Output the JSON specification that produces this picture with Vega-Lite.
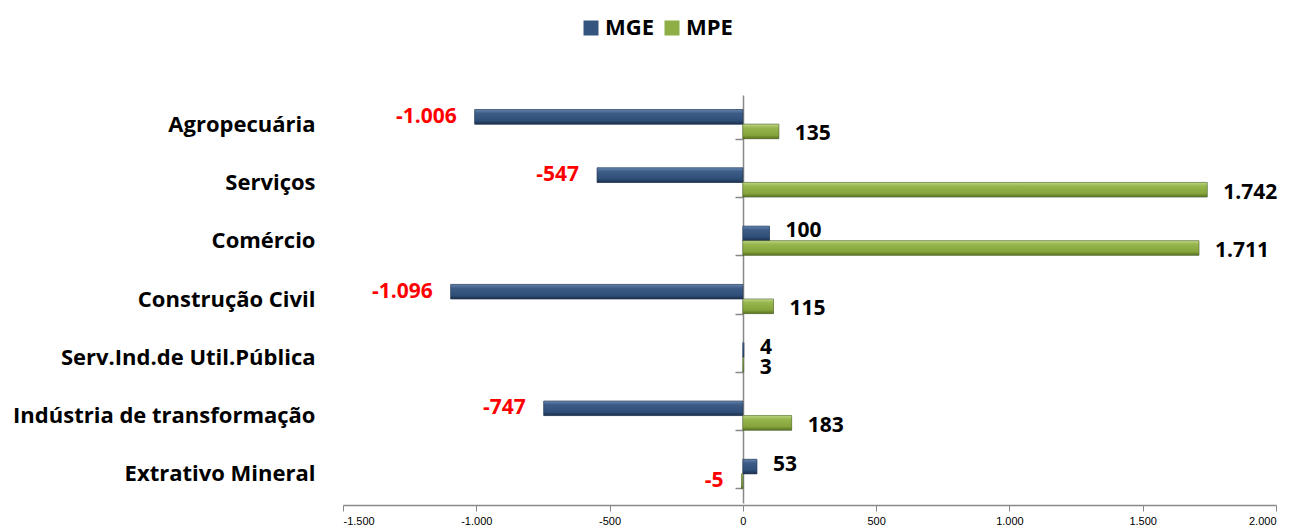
{
  "$schema": "https://vega.github.io/schema/vega-lite/v6.json",
  "autosize": "none",
  "padding": {"left": 343, "top": 95, "right": 19, "bottom": 26},
  "width": 933,
  "height": 408,
  "background": "white",
  "config": {
    "view": {"stroke": null},
    "locale": {"number": {"decimal": ",", "thousands": ".", "grouping": [3], "currency": ["R$", ""], "minus": "-"}}
  },
  "data": {
    "values": [
      {"category": "Agropecuária", "series": "MGE", "value": -1006},
      {"category": "Agropecuária", "series": "MPE", "value": 135},
      {"category": "Serviços", "series": "MGE", "value": -547},
      {"category": "Serviços", "series": "MPE", "value": 1742},
      {"category": "Comércio", "series": "MGE", "value": 100},
      {"category": "Comércio", "series": "MPE", "value": 1711},
      {"category": "Construção Civil", "series": "MGE", "value": -1096},
      {"category": "Construção Civil", "series": "MPE", "value": 115},
      {"category": "Serv.Ind.de Util.Pública", "series": "MGE", "value": 4},
      {"category": "Serv.Ind.de Util.Pública", "series": "MPE", "value": 3},
      {"category": "Indústria de transformação", "series": "MGE", "value": -747},
      {"category": "Indústria de transformação", "series": "MPE", "value": 183},
      {"category": "Extrativo Mineral", "series": "MGE", "value": 53},
      {"category": "Extrativo Mineral", "series": "MPE", "value": -5}
    ]
  },
  "encoding": {
    "y": {
      "field": "category", "type": "nominal",
      "sort": ["Agropecuária", "Serviços", "Comércio", "Construção Civil", "Serv.Ind.de Util.Pública", "Indústria de transformação", "Extrativo Mineral"],
      "scale": {"paddingInner": 0.5, "paddingOuter": 0.25},
      "axis": {
        "title": null, "offset": -400, "domainColor": "#888888", "domainWidth": 1.5,
        "tickColor": "#888888", "tickSize": 8, "tickBand": "extent", "tickWidth": 1.5,
        "labelPadding": 420, "labelFont": "Open Sans", "labelFontSize": 22, "labelFontWeight": "bold",
        "labelColor": "#000000", "labelLimit": 400
      }
    },
    "yOffset": {"field": "series", "type": "nominal", "sort": ["MGE", "MPE"], "scale": {"paddingInner": 0, "paddingOuter": 0}},
    "x": {
      "field": "value", "type": "quantitative",
      "scale": {"domain": [-1500, 2000], "nice": false, "zero": false},
      "axis": {
        "title": null, "values": [-1500, -1000, -500, 0, 500, 1000, 1500, 2000], "format": ",d",
        "grid": false, "domainColor": "#888888", "domainWidth": 1.5, "tickColor": "#888888", "tickSize": 6,
        "labelFont": "Liberation Sans", "labelFontSize": 11, "labelColor": "#000000", "labelPadding": 4, "offset": 2
      }
    }
  },
  "layer": [
    {
      "mark": {"type": "bar", "stroke": "#22344d", "strokeWidth": 0.6, "strokeOpacity": 0.6},
      "encoding": {
        "color": {
          "field": "series", "type": "nominal",
          "scale": {"domain": ["MGE", "MPE"], "range": ["#34557f", "#8fae45"]},
          "legend": {
            "title": null, "orient": "none", "direction": "horizontal", "legendX": 237, "legendY": -78,
            "symbolType": "square", "symbolSize": 225, "symbolStrokeWidth": 0,
            "labelFont": "Open Sans", "labelFontSize": 22, "labelFontWeight": "bold", "labelColor": "#000000",
            "labelOffset": 3, "columnPadding": 7, "padding": 0
          }
        }
      }
    },
    {
      "transform": [{"filter": "datum.series == 'MGE'"}],
      "mark": {"type": "bar", "stroke": "#1b2f4c", "strokeWidth": 0.6, "strokeOpacity": 0.6,
        "fill": {"gradient": "linear", "x1": 0, "y1": 0, "x2": 0, "y2": 1, "stops": [
          {"offset": 0, "color": "#6784ad"}, {"offset": 0.25, "color": "#3d5d88"},
          {"offset": 0.75, "color": "#2f4e77"}, {"offset": 1, "color": "#1b2f4c"}]}},
      "encoding": {}
    },
    {
      "transform": [{"filter": "datum.series == 'MPE'"}],
      "mark": {"type": "bar", "stroke": "#4d6320", "strokeWidth": 0.6, "strokeOpacity": 0.6,
        "fill": {"gradient": "linear", "x1": 0, "y1": 0, "x2": 0, "y2": 1, "stops": [
          {"offset": 0, "color": "#bfd684"}, {"offset": 0.25, "color": "#98b64e"},
          {"offset": 0.75, "color": "#86a43c"}, {"offset": 1, "color": "#5b7322"}]}},
      "encoding": {}
    },
    {
      "transform": [{"filter": "datum.value < 0"}],
      "mark": {"type": "text", "align": "right", "baseline": "middle", "dx": -18, "font": "Open Sans", "fontSize": 21, "fontWeight": 700, "fill": "#ff0000"},
      "encoding": {"text": {"field": "value", "type": "quantitative", "format": ",d"}}
    },
    {
      "transform": [{"filter": "datum.value >= 0 && datum.series == 'MGE'"}],
      "mark": {"type": "text", "align": "left", "baseline": "middle", "dx": 16, "dy": -2, "font": "Open Sans", "fontSize": 21, "fontWeight": 700, "fill": "#000000"},
      "encoding": {"text": {"field": "value", "type": "quantitative", "format": ",d"}}
    },
    {
      "transform": [{"filter": "datum.value >= 0 && datum.series == 'MPE'"}],
      "mark": {"type": "text", "align": "left", "baseline": "middle", "dx": 16, "dy": 3, "font": "Open Sans", "fontSize": 21, "fontWeight": 700, "fill": "#000000"},
      "encoding": {"text": {"field": "value", "type": "quantitative", "format": ",d"}}
    }
  ]
}
